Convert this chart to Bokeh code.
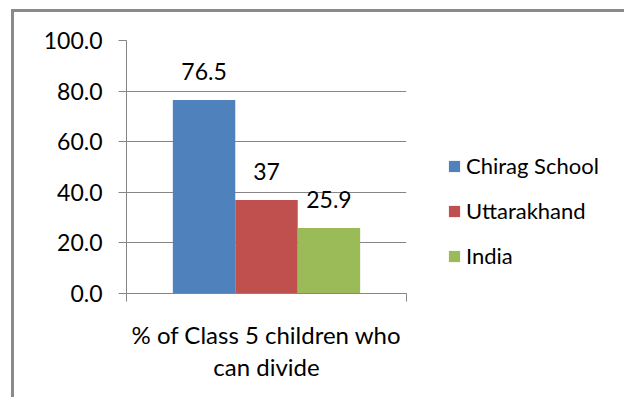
from bokeh.plotting import figure
from bokeh.models import (FactorRange, Range1d, LinearAxis, FixedTicker,
                          PrintfTickFormatter, Legend, LegendItem, ColumnDataSource)
from bokeh.transform import dodge
from bokeh.core.properties import value
from bokeh.embed import file_html
from bokeh.resources import INLINE

categories = ["% of Class 5 children who\ncan divide"]
series = ["Chirag School", "Uttarakhand", "India"]
values = [76.5, 37, 25.9]
value_labels = ["76.5", "37", "25.9"]
colors = ["#4F81BD", "#C0504D", "#9BBB59"]
y_ticks = [0, 20, 40, 60, 80, 100]

FONT = "Lato"
FS = "23px"
GRAY = "#868686"
BAR_W = 0.223

p = figure(frame_width=280, frame_height=253,
           min_border_left=112, min_border_top=28, min_border_right=20, min_border_bottom=104,
           x_range=FactorRange(factors=categories, range_padding=0),
           y_range=Range1d(0, 100),
           x_axis_location=None, y_axis_location=None,
           output_backend="svg", toolbar_location=None,
           styles={"border-top": "3px solid #8a8a8a", "border-left": "3px solid #8a8a8a",
                   "margin-left": "11px", "margin-top": "9px"})
p.outline_line_color = None
p.background_fill_color = "white"
p.border_fill_color = "white"

# y axis
yaxis = LinearAxis(ticker=FixedTicker(ticks=y_ticks),
                   formatter=PrintfTickFormatter(format="%.1f"))
yaxis.axis_line_color = GRAY
yaxis.major_tick_line_color = GRAY
yaxis.major_tick_in = 0
yaxis.major_tick_out = 8
yaxis.minor_tick_line_color = None
yaxis.major_label_standoff = 16
yaxis.major_label_text_font = FONT
yaxis.major_label_text_font_size = FS
yaxis.major_label_text_color = "black"
p.add_layout(yaxis, "left")

# x axis in synthetic coordinates of the factor range: label at the
# category centre, minor ticks at the category edges
n = len(categories)
xaxis = LinearAxis(ticker=FixedTicker(ticks=[i + 0.5 for i in range(n)],
                                      minor_ticks=list(range(n + 1))))
xaxis.major_label_overrides = {i + 0.5: c for i, c in enumerate(categories)}
xaxis.axis_line_color = GRAY
xaxis.major_tick_line_color = None
xaxis.major_tick_in = 0
xaxis.major_tick_out = 8
xaxis.minor_tick_line_color = GRAY
xaxis.minor_tick_in = 0
xaxis.minor_tick_out = 8
xaxis.major_label_standoff = 18
xaxis.major_label_text_font = FONT
xaxis.major_label_text_font_size = "24px"
xaxis.major_label_text_color = "black"
xaxis.major_label_text_line_height = 1.12
p.add_layout(xaxis, "below")

p.xgrid.visible = False
p.ygrid.ticker = FixedTicker(ticks=y_ticks)
p.ygrid.grid_line_color = GRAY
p.ygrid.grid_line_width = 1

items = []
for i, (s, v, lab, c) in enumerate(zip(series, values, value_labels, colors)):
    src = ColumnDataSource(dict(cat=categories, val=[v], lab=[lab]))
    off = (i - 1) * BAR_W
    r = p.vbar(x=dodge("cat", off, range=p.x_range), top="val", width=BAR_W,
               source=src, fill_color=c, line_color=None)
    p.text(x=dodge("cat", off, range=p.x_range), y="val", text="lab", source=src,
           text_align="center", text_baseline="middle", y_offset=-28,
           text_font=value(FONT), text_font_size=FS, text_color="black")
    items.append(LegendItem(label=s, renderers=[r]))

legend = Legend(items=items, location=(41, 24))
legend.glyph_width = 14
legend.glyph_height = 14
legend.label_height = 20
legend.spacing = 18
legend.padding = 0
legend.margin = 0
legend.label_standoff = 5
legend.border_line_color = None
legend.background_fill_alpha = 0
legend.label_text_font = FONT
legend.label_text_font_size = "22px"
legend.label_text_color = "black"
p.add_layout(legend, "right")

open("out.html", "w").write(file_html(p, INLINE))
